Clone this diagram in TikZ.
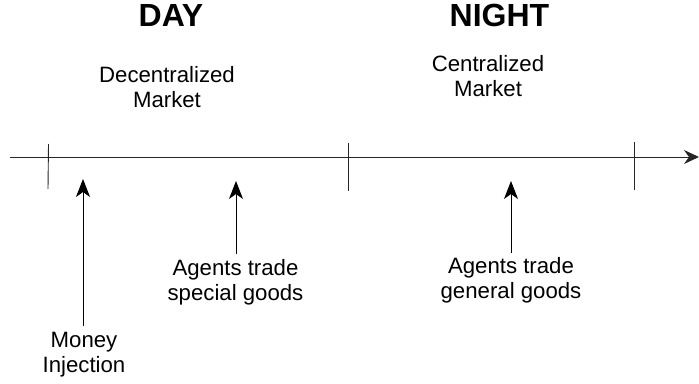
\documentclass[tikz,border=0pt]{standalone}
\usepackage{fontspec}
\setmainfont{Liberation Sans}
\usetikzlibrary{arrows.meta}
\begin{document}
\begin{tikzpicture}[x=1pt,y=-1pt,
  lbl/.style={inner sep=0pt,outer sep=0pt,anchor=north,align=center,font=\fontsize{22.2}{25}\selectfont},
  ttl/.style={inner sep=0pt,outer sep=0pt,anchor=north,font=\fontsize{32}{34}\selectfont\bfseries},
  line/.style={line width=0.9pt,draw=black!85},
  up/.style={line width=0.9pt,-{Stealth[length=18pt,width=14pt,inset=5pt]}}]
\useasboundingbox (0,0) rectangle (699,383);
% titles
\node[ttl] (day) at (171,4.5) {DAY};
\node[ttl] (night) at (499.5,4.5) {NIGHT};
\node[lbl] (dec) at (167,66) {Decentralized\\Market};
\node[lbl] (cen) at (488,55) {Centralized\\Market};
% timeline
\coordinate (tl0) at (10,157);
\coordinate (tl1) at (699,157);
\draw[line,-{Stealth[length=15pt,width=14pt,inset=5pt]}] (tl0) -- (tl1);
\coordinate (k1a) at (48.5,144); \coordinate (k1b) at (48,189);
\coordinate (k2a) at (348,143); \coordinate (k2b) at (348,191);
\coordinate (k3a) at (634,142); \coordinate (k3b) at (634,190);
\draw[line] (k1a) -- (k1b);
\draw[line] (k2a) -- (k2b);
\draw[line] (k3a) -- (k3b);
% labels below
\node[lbl] (money) at (84,332) {Money\\Injection};
\node[lbl] (spec) at (235.5,259) {Agents trade\\special goods};
\node[lbl] (gen) at (511,257) {Agents trade\\general goods};
% arrow tips
\coordinate (t1) at (83,179);
\coordinate (t2) at (236,181);
\coordinate (t3) at (511,181);
\coordinate (b1) at (83,326);
\coordinate (b2) at (236,254);
\coordinate (b3) at (511,253);
\draw[up] (b1) -- (t1);
\draw[up] (b2) -- (t2);
\draw[up] (b3) -- (t3);
\end{tikzpicture}
\end{document}
